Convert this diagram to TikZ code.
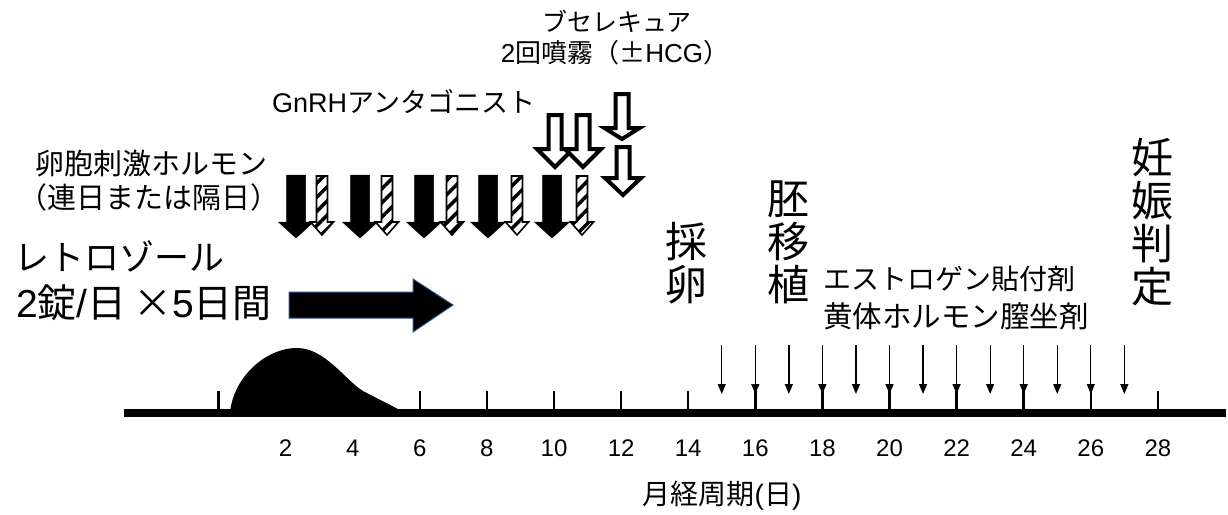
\documentclass[tikz,border=0pt]{standalone}
\usepackage{fontspec}
\setmainfont{Liberation Sans}
\newfontfamily\jp{Noto Sans CJK JP}
\usetikzlibrary{arrows.meta,patterns.meta}
\definecolor{arrowblue}{HTML}{2F528F}
% block arrow: [style]{cx}{top}{headstart}{shaftw}{headw}{tip}
\newcommand{\blockarrow}[7][]{%
  \draw[#1] ({#2-#5/2},#3) -- ({#2+#5/2},#3) -- ({#2+#5/2},#4) -- ({#2+#6/2},#4)
    -- (#2,#7) -- ({#2-#6/2},#4) -- ({#2-#5/2},#4) -- cycle;}
\begin{document}
\begin{tikzpicture}[x=1pt,y=-1pt,
  jt/.style={font=\fontsize{#1}{#1}\selectfont, inner sep=0pt},
  vt/.style={font=\jp\fontsize{#1}{43}\selectfont, inner sep=0pt, align=center},
  num/.style={font=\fontsize{24}{24}\selectfont, inner sep=0pt},
  tickmark/.style={line width=2.5pt},
  smallarrow/.style={line width=1.3pt,-{Triangle[length=10pt,width=8pt]}},
  fsh/.style={fill=black, draw=black, line width=0.5pt},
  hatch/.style={draw=black, line width=1.6pt, pattern={Lines[angle=45,distance=10pt,line width=3.5pt]}},
  openarrow/.style={fill=white, draw=black, line width=4pt, line join=miter}]
\useasboundingbox (0,0) rectangle (1228,514);

% ---- timeline ----
\coordinate (tl0) at (124,413);
\coordinate (tl1) at (1226,413);
% hormone curve
\fill (230,413) .. controls (233,378) and (265,348) .. (297,348)
  .. controls (325,348) and (345,380) .. (363,391)
  .. controls (378,399) and (395,407) .. (405,413) -- cycle;
\draw[line width=8.5pt] (tl0) -- (tl1);
\foreach \d in {0,6,8,...,28}{
  \coordinate (t\d) at ({218.5+33.55*\d},413);
  \draw[tickmark] (t\d) -- ++(0,-22);
}
\foreach \d in {2,4,...,28}{
  \node[num] (n\d) at ({218.5+33.55*\d},448) {\d};
}
\node[jt=28] (axis) at (722,496) {{\jp 月経周期}({\jp 日})};

% ---- daily small arrows ----
\foreach \d in {15,...,27}{
  \coordinate (sa\d) at ({218.5+33.55*\d},345);
  \coordinate (sb\d) at ({218.5+33.55*\d},394);
  \draw[smallarrow] (sa\d) -- (sb\d);
}

% ---- FSH arrows ----
\foreach \c in {296,360,424,488,552}{
  \blockarrow[fsh]{\c}{175}{222}{19}{35}{238}
}
\foreach \c in {322,387,452,517,582}{
  \blockarrow[hatch]{\c}{176}{222}{11}{23}{235}
}

% ---- GnRH antagonist ----
\blockarrow[openarrow]{555}{115}{149}{13}{36}{167}
\blockarrow[openarrow]{583}{115}{149}{13}{36}{167}

% ---- Buserelin ----
\blockarrow[openarrow]{622}{94}{128}{13}{35}{139}
\blockarrow[openarrow]{623}{147}{178}{13}{36}{195}

% ---- letrozole arrow ----
\draw[fill=black, draw=arrowblue, line width=1pt]
  (289,292) -- (413,292) -- (413,279) -- (453,305) -- (413,332) -- (413,318) -- (289,318) -- cycle;

% ---- labels ----
\node[jt=25] (bus1) at (617,21) {\jp ブセレキュア};
\node[jt=26] (bus2) at (615,53) {2{\jp 回噴霧（±}HCG{\jp ）}};
\node[jt=27, anchor=west] (gnrh) at (272,102) {GnRH{\jp アンタゴニスト}};
\node[jt=29] (fsh1) at (151,164) {\jp 卵胞刺激ホルモン};
\node[jt=29] (fsh2) at (149,197) {\jp （連日または隔日）};
\node[jt=35] (let1) at (119,256) {\jp レトロゾール};
\node[jt=39] (let2) at (144,303) {2{\jp 錠}/{\jp 日}\,{\jp ×}5{\jp 日間}};
\node[vt=42] (opu) at (686,263) {採\\卵};
\node[vt=42] (et) at (788,242) {胚\\移\\植};
\node[vt=42] (preg) at (1152,222) {妊\\娠\\判\\定};
\node[jt=28, anchor=west] (e2) at (823,279) {\jp エストロゲン貼付剤};
\node[jt=29.5, anchor=west] (p4) at (823,316) {\jp 黄体ホルモン膣坐剤};
\end{tikzpicture}
\end{document}
